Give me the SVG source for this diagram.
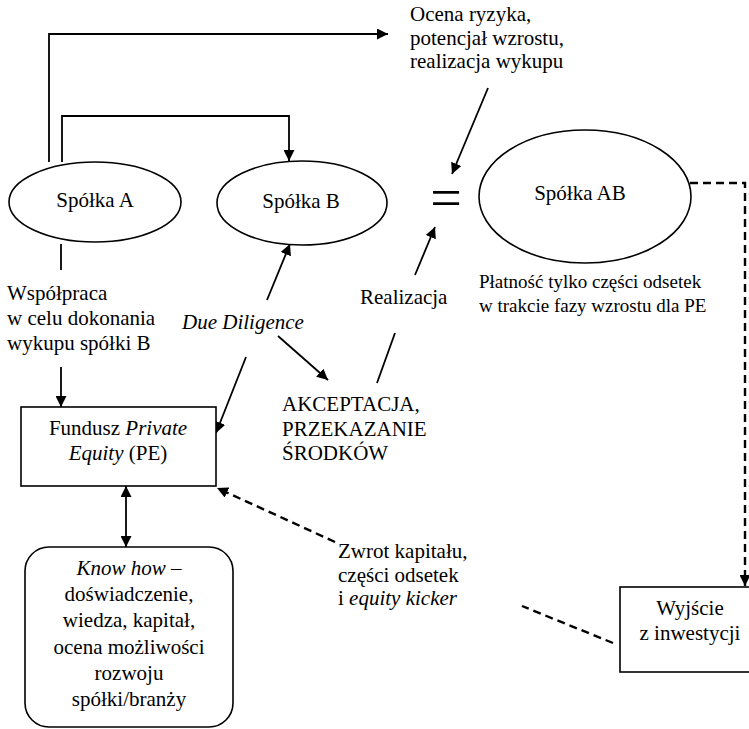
<svg xmlns="http://www.w3.org/2000/svg" width="749" height="729" viewBox="0 0 749 729" font-family="'Liberation Serif', 'DejaVu Serif', serif">
<style>
text{font-family:'Liberation Serif','DejaVu Serif',serif;font-size:21px;fill:#000}
.sm{font-size:19px}
.c{text-anchor:middle}
.i{font-style:italic}
.shape{fill:#fff;stroke:#000;stroke-width:1.6}
.ln{fill:none;stroke:#000;stroke-width:1.8}
.ds{fill:none;stroke:#000;stroke-width:2.4;stroke-dasharray:8 5}
</style>
<defs>
<marker id="ah" viewBox="0 0 10 10" refX="10" refY="5" markerWidth="11" markerHeight="11" markerUnits="userSpaceOnUse" orient="auto-start-reverse">
<path d="M0,0 L10,5 L0,10 z" fill="#000"/>
</marker>
</defs>
<rect width="749" height="729" fill="#fff"/>

<g id="connectors">
<path class="ln" d="M49,162 V34 H388" marker-end="url(#ah)"/>
<path class="ln" d="M62,162 V116 H289 V161" marker-end="url(#ah)"/>
<path class="ln" d="M61,244 V270"/>
<path class="ln" d="M61,367 V407" marker-end="url(#ah)"/>
<path class="ln" d="M267,300 L290,244" marker-end="url(#ah)"/>
<path class="ln" d="M246,357 L216,433" marker-end="url(#ah)"/>
<path class="ln" d="M278,336 L328,380" marker-end="url(#ah)"/>
<path class="ln" d="M415,275 L435,227" marker-end="url(#ah)"/>
<path class="ln" d="M377,383 L395,333"/>
<path class="ln" d="M488,88 L452,174" marker-end="url(#ah)"/>
<path class="ln" d="M126,486 V547" marker-start="url(#ah)" marker-end="url(#ah)"/>
<path class="ds" d="M690,183 H745 V586" marker-end="url(#ah)"/>
<path class="ds" d="M613,643 L522,606"/>
<path class="ds" d="M335,542 L217,488" marker-end="url(#ah)"/>
</g>

<g id="spolkaA">
<ellipse class="shape" cx="95" cy="202" rx="86" ry="40"/>
<text class="c" x="95" y="207">Spółka A</text>
</g>
<g id="spolkaB">
<ellipse class="shape" cx="302" cy="203" rx="85" ry="42"/>
<text class="c" x="301" y="208">Spółka B</text>
</g>
<g id="equals">
<text class="c" x="446" y="217" style="font-size:56px">=</text>
</g>
<g id="spolkaAB">
<ellipse class="shape" cx="585" cy="196.5" rx="106" ry="66.5"/>
<text class="c" x="580" y="200">Spółka AB</text>
</g>
<g id="ocena">
<text x="410" y="21">Ocena ryzyka,</text>
<text x="410" y="45">potencjał wzrostu,</text>
<text x="410" y="68">realizacja wykupu</text>
</g>
<g id="platnosc">
<text class="sm" x="479" y="288">Płatność tylko części odsetek</text>
<text class="sm" x="479" y="312">w trakcie fazy wzrostu dla PE</text>
</g>
<g id="wspolpraca">
<text x="7" y="300">Współpraca</text>
<text x="7" y="325">w celu dokonania</text>
<text x="7" y="350">wykupu spółki B</text>
</g>
<g id="dueDiligence">
<text class="i" x="182" y="329">Due Diligence</text>
</g>
<g id="realizacja">
<text x="360" y="304">Realizacja</text>
</g>
<g id="akceptacja">
<text x="282" y="411">AKCEPTACJA,</text>
<text x="282" y="436">PRZEKAZANIE</text>
<text x="282" y="460">ŚRODKÓW</text>
</g>
<g id="fundusz">
<rect class="shape" x="21" y="407" width="195" height="79"/>
<text class="c" x="118" y="435">Fundusz <tspan class="i">Private</tspan></text>
<text class="c" x="118" y="460"><tspan class="i">Equity</tspan> (PE)</text>
</g>
<g id="knowhow">
<rect class="shape" x="25" y="547" width="208" height="180" rx="24"/>
<text class="c" x="129" y="575"><tspan class="i">Know how</tspan> –</text>
<text class="c" x="129" y="601">doświadczenie,</text>
<text class="c" x="129" y="627">wiedza, kapitał,</text>
<text class="c" x="129" y="654">ocena możliwości</text>
<text class="c" x="129" y="680">rozwoju</text>
<text class="c" x="129" y="706">spółki/branży</text>
</g>
<g id="zwrot">
<text x="338" y="558">Zwrot kapitału,</text>
<text x="338" y="582">części odsetek</text>
<text x="338" y="605">i <tspan class="i">equity kicker</tspan></text>
</g>
<g id="wyjscie">
<rect class="shape" x="620" y="587" width="135" height="85"/>
<text class="c" x="690" y="615">Wyjście</text>
<text class="c" x="690" y="640">z inwestycji</text>
</g>
</svg>
